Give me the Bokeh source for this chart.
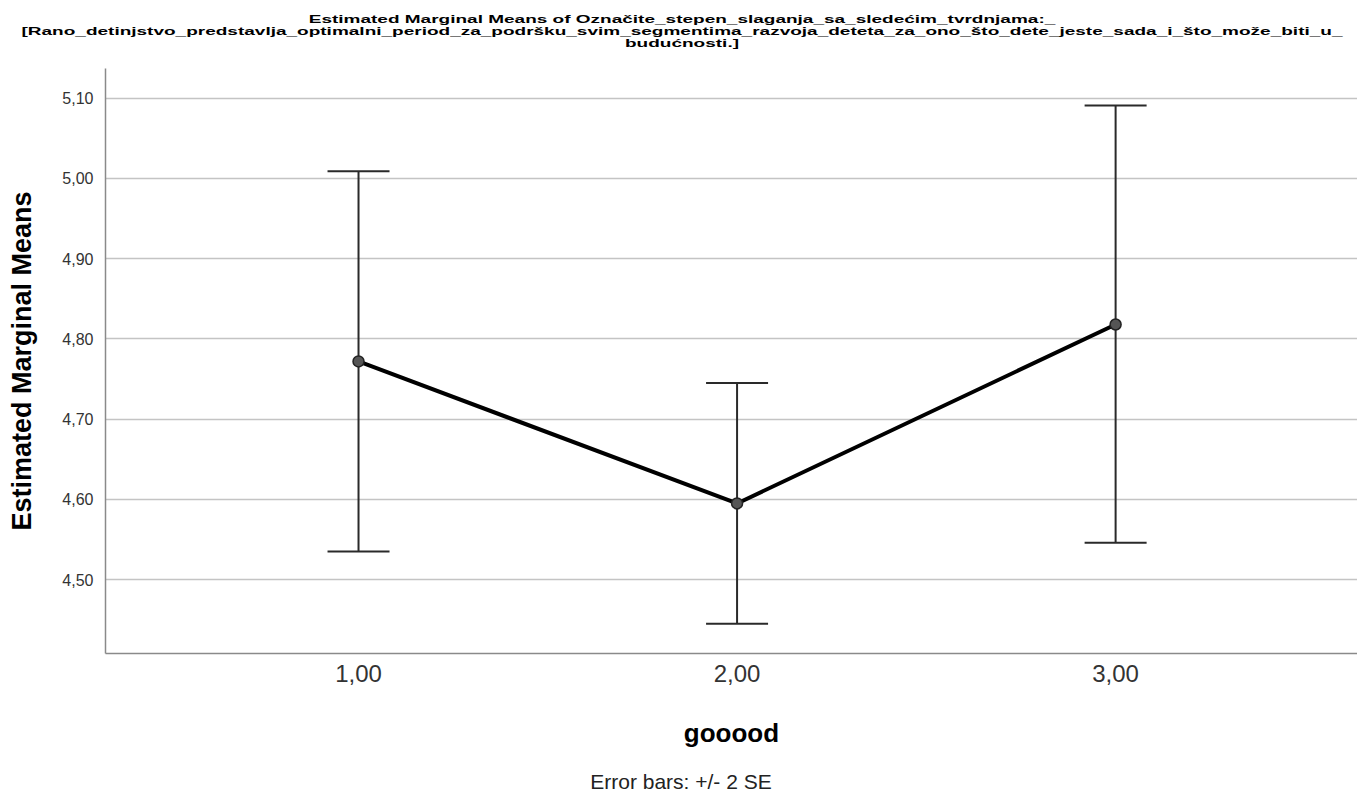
import html
from bokeh.plotting import figure
from bokeh.layouts import column
from bokeh.models import (ColumnDataSource, FixedTicker, Whisker, TeeHead,
                          Range1d, Div)
from bokeh.embed import file_html
from bokeh.resources import INLINE

# ---- data ----
groups = [1, 2, 3]
means = [4.772, 4.595, 4.818]
lower = [4.535, 4.445, 4.546]
upper = [5.009, 4.745, 5.091]
x_tick_labels = ["1,00", "2,00", "3,00"]
y_ticks = [4.5, 4.6, 4.7, 4.8, 4.9, 5.0, 5.1]
y_tick_labels = ["4,50", "4,60", "4,70", "4,80", "4,90", "5,00", "5,10"]
title_lines = [
    "Estimated Marginal Means of Označite_stepen_slaganja_sa_sledećim_tvrdnjama:_",
    "[Rano_detinjstvo_predstavlja_optimalni_period_za_podršku_svim_segmentima_razvoja_deteta_za_ono_što_dete_jeste_sada_i_što_može_biti_u_",
    "budućnosti.]",
]
x_title = "gooood"
y_title = "Estimated Marginal Means"
footnote = "Error bars: +/- 2 SE"

FONT = "Liberation Sans"
CSS_FONT = "'Liberation Sans', Arial, sans-serif"
W = 1357

# ---- title (HTML, wide and vertically squeezed like the original) ----
title_div = Div(
    text=('<div style="box-sizing:border-box;width:%dpx;padding:24.3px 0 0 7px;'
          'text-align:center;font-family:%s;font-weight:bold;font-size:19px;'
          'line-height:21.43px;color:#000;white-space:nowrap;'
          'transform:scaleY(0.56);transform-origin:0 0;">%s</div>')
    % (W, CSS_FONT, "<br>".join(html.escape(t) for t in title_lines)),
    width=W, height=60, margin=0)

# ---- plot ----
src = ColumnDataSource(dict(x=groups, mean=means, lower=lower, upper=upper))

p = figure(width=W, height=705, output_backend="svg", toolbar_location=None,
           x_range=Range1d(0.3316, 3.639), y_range=Range1d(4.408, 5.137),
           min_border_left=105, min_border_right=0, min_border_top=8,
           min_border_bottom=112, margin=0)
p.outline_line_color = None
p.background_fill_color = "white"
p.border_fill_color = "white"

p.xgrid.grid_line_color = None
p.ygrid.grid_line_color = "#c4c4c4"
p.ygrid.grid_line_width = 1.5
p.ygrid.ticker = FixedTicker(ticks=y_ticks)

for ax in (p.xaxis[0], p.yaxis[0]):
    ax.axis_line_color = "#8a8a8a"
    ax.axis_line_width = 1.5
    ax.major_tick_line_color = None
    ax.minor_tick_line_color = None
    ax.major_tick_out = 0
    ax.minor_tick_out = 0
    ax.major_label_text_font = FONT
    ax.major_label_text_color = "#333333"
    ax.axis_label_text_font = FONT
    ax.axis_label_text_font_style = "bold"
    ax.axis_label_text_color = "black"

p.xaxis.ticker = FixedTicker(ticks=groups)
p.xaxis.major_label_overrides = dict(zip(groups, x_tick_labels))
p.xaxis.major_label_text_font_size = "24px"
p.xaxis.major_label_standoff = 11
p.xaxis.axis_label = x_title
p.xaxis.axis_label_text_font_size = "26px"
p.xaxis.axis_label_standoff = 33

p.yaxis.ticker = FixedTicker(ticks=y_ticks)
p.yaxis.major_label_overrides = dict(zip(y_ticks, y_tick_labels))
p.yaxis.major_label_text_font_size = "16px"
p.yaxis.major_label_standoff = 12
p.yaxis.axis_label = y_title
p.yaxis.axis_label_text_font_size = "27px"
p.yaxis.axis_label_standoff = 22

wh = Whisker(source=src, base="x", upper="upper", lower="lower",
             dimension="height", line_color="#2a2a2a", line_width=2,
             upper_head=TeeHead(size=62, line_color="#2a2a2a", line_width=2),
             lower_head=TeeHead(size=62, line_color="#2a2a2a", line_width=2))
p.add_layout(wh)

p.line("x", "mean", source=src, line_color="black", line_width=4)
p.scatter("x", "mean", source=src, size=11, marker="circle",
          fill_color="#555555", line_color="#222222", line_width=1.5)

# ---- footnote ----
foot_div = Div(
    text=('<div style="box-sizing:border-box;width:%dpx;padding:6px 0 0 5px;'
          'text-align:center;font-family:%s;font-size:21px;line-height:21px;'
          'color:#222;white-space:nowrap;">%s</div>')
    % (W, CSS_FONT, html.escape(footnote)),
    width=W, height=27, margin=0)

layout = column(title_div, p, foot_div, spacing=0)

open("out.html", "w", encoding="utf-8").write(file_html(layout, INLINE))
